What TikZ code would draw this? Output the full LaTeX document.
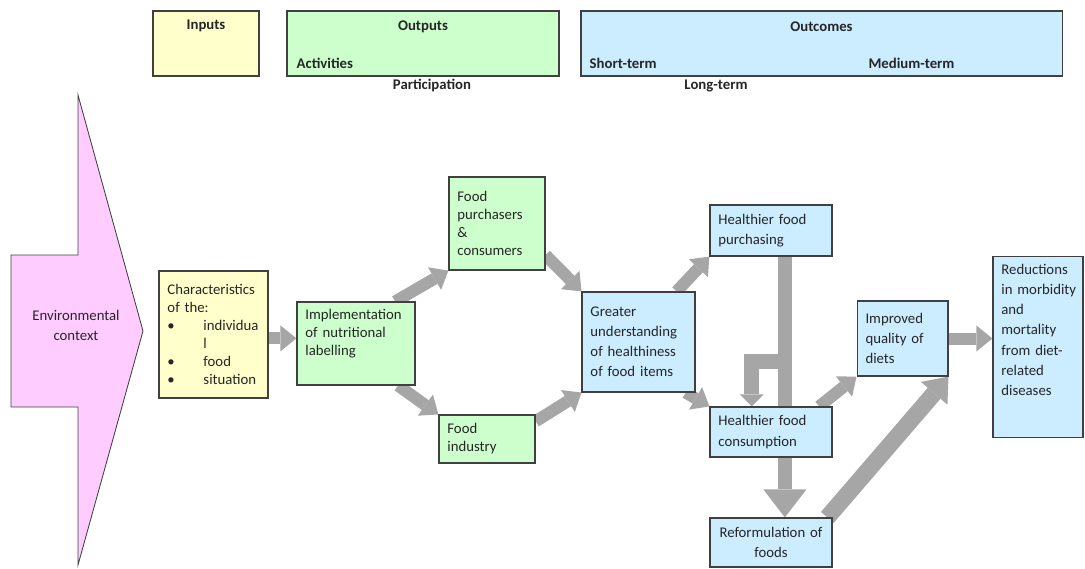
\documentclass[tikz,border=0pt]{standalone}
\usepackage{fontspec}
\setmainfont{Carlito}
\usetikzlibrary{arrows.meta,calc,backgrounds}

\definecolor{inyellow}{HTML}{FFFFCC}
\definecolor{outgreen}{HTML}{CCFFCC}
\definecolor{outblue}{HTML}{CCECFF}
\definecolor{envpink}{HTML}{FFCCFF}
\definecolor{arrowgray}{HTML}{A6A6A6}

\begin{document}
\begin{tikzpicture}[x=0.025cm,y=-0.025cm,
  >={Triangle[width=.65cm,length=.4cm,line width=0pt]},
  base node/.style={draw=black!75,line width=.8pt,text=black!85,inner xsep=6pt,inner ysep=4pt,
    font=\fontsize{10.5}{12.8}\selectfont,align=left},
  input node/.style={base node,fill=inyellow},
  output node/.style={base node,fill=outgreen},
  outcome node/.style={base node,fill=outblue,font=\fontsize{10.5}{14.3}\selectfont},
  head node/.style={draw=black!75,line width=.8pt,minimum height=1.625cm},
  head text/.style={inner sep=0pt,text=black!85,font=\bfseries\fontsize{10.5}{12}\selectfont},
  flow/.style={->,line width=.3cm,draw=arrowgray}]

\useasboundingbox (0,0) rectangle (1085,568);

% header row
\node[head node,fill=inyellow,minimum width=2.65cm](inputs) at (206,43.5) {};
\node[head node,fill=outgreen,minimum width=6.8cm](outputs) at (423,43.5) {};
\node[head node,fill=outblue,minimum width=12.025cm](outcomes) at (821.5,43.5) {};
\node[head text](inputs title) at ($(inputs.north)+(0,15)$) {Inputs};
\node[head text](outputs title) at ($(outputs.north)+(0,16)$) {Outputs};
\node[head text,anchor=west](activities) at ($(outputs.south west)+(10,-13)$) {Activities};
\node[head text](participation) at ($(outputs.south)+(9,9)$) {Participation};
\node[head text](outcomes title) at ($(outcomes.north)+(0,16)$) {Outcomes};
\node[head text,anchor=west](short) at ($(outcomes.south west)+(9,-13)$) {Short-term};
\node[head text](medium) at ($(outcomes.south)+(90,-13)$) {Medium-term};
\node[head text](long) at ($(outcomes.south)+(-105.5,9)$) {Long-term};

% environment arrow
\draw[draw=black!75,line width=.6pt,fill=envpink]
  (78,95) -- (143,331) -- (78,565) -- (78,407) -- (11,407) -- (11,255) -- (78,255) -- cycle;
\node[text=black!85,align=center,font=\fontsize{10.5}{14.3}\selectfont](envtext) at (76,325) {Environmental\\ context};

% boxes
\node[input node,text width=2.3cm,minimum height=3.175cm](chars) at (213.5,334.5)
  {Characteristics\\ of the:\\ \makebox[.9cm][l]{\textbullet}individua\\ \hspace*{.9cm}l\\
   \makebox[.9cm][l]{\textbullet}food\\ \makebox[.9cm][l]{\textbullet}situation};
\node[output node,text width=2.53cm,text height=8.5pt,text depth=42.5pt](impl) at (356,343.5)
  {Implementation\\ of nutritional\\ labelling};
\node[output node,text width=1.98cm,minimum height=2.325cm](buyers) at (497,223.5)
  {Food\\ purchasers\\ \&\\ consumers};
\node[output node,text width=1.98cm,minimum height=1.2cm](industry) at (487,439)
  {Food\\ industry};
\node[outcome node,text width=2.4cm,minimum height=2.5cm](underst) at (638.5,342)
  {Greater\\ understanding\\ of healthiness\\ of food items};
\node[outcome node,text width=2.63cm,minimum height=1.275cm](hpurch) at (771,230.5)
  {Healthier food\\ purchasing};
\node[outcome node,text width=2.63cm,minimum height=1.25cm](hcons) at (771,432)
  {Healthier food\\ consumption};
\node[outcome node,text width=2.63cm,minimum height=1.225cm,align=center](reform) at (771,542.5)
  {\mbox{Reformulation of}\\ foods};
\node[outcome node,text width=1.83cm,text height=9pt,text depth=112pt](reduct) at (1038,347)
  {Reductions\\ \mbox{in morbidity}\\ and\\ mortality\\ \mbox{from\ diet-}\\ related\\ diseases};
\node[outcome node,text width=1.85cm,minimum height=1.875cm](improved) at (902.5,338.5)
  {Improved\\ quality of\\ diets};

\coordinate (split) at (hpurch.-62 |- 0,361);

\begin{scope}[on background layer]
\path
(chars.-4) edge[flow] (chars.-4 -| impl.west)
(impl.47) edge[flow] (buyers.south west)
(impl.-45) edge[flow] (industry.north west)
(buyers.-33) edge[flow] (underst.north west)
(industry.20) edge[flow] (underst.south west)
(underst.53) edge[flow] (hpurch.south west)
(underst.-47) edge[flow] (hcons.north west)
(hcons.28) edge[flow] (improved.south west)
(improved.east) edge[flow] (improved.east -| reduct.west);
\draw[line width=.35cm,draw=arrowgray,-{Triangle[width=1.075cm,length=.7cm,line width=0pt]}]
  (hpurch.-62) -- (hpurch.-62 |- reform.north);
\draw[line width=.375cm,draw=arrowgray,-{Triangle[width=.6cm,length=.3cm,line width=0pt]}]
  (split) -| (hcons.127);
\draw[line width=.42cm,draw=arrowgray,-{Triangle[width=.875cm,length=.55cm,line width=0pt]}]
  (reform.24) -- (improved.south east);
\end{scope}

\end{tikzpicture}
\end{document}
